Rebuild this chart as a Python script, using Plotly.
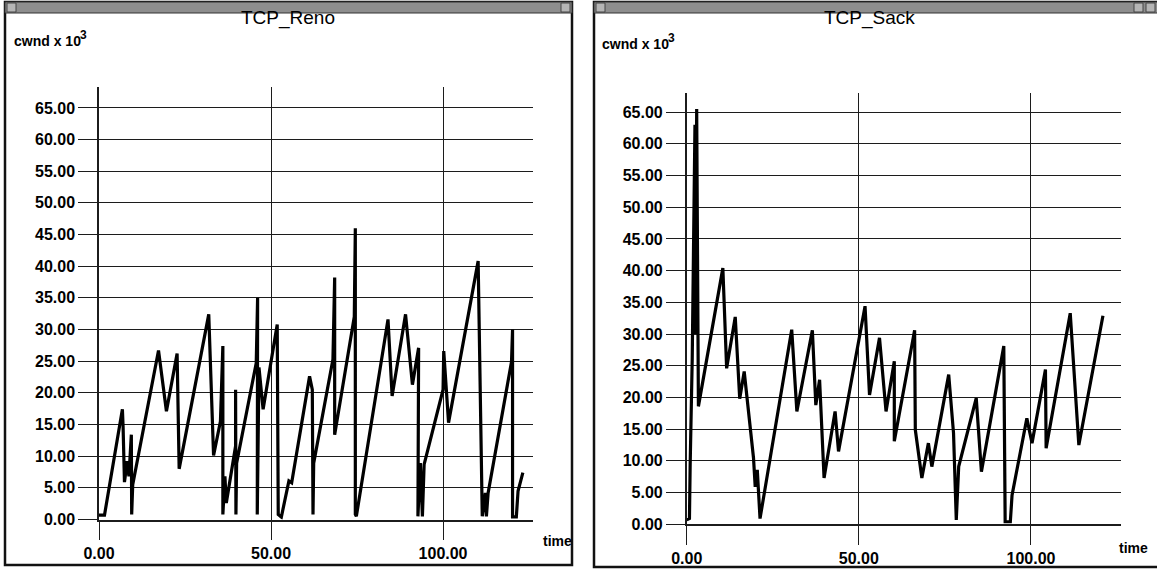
import plotly.graph_objects as go

# ---------------- data ----------------
reno_t = [0, 1.6, 6.8, 7.0, 7.4, 8.2, 8.7, 9.4, 9.5, 9.8,
          17.3, 19.6, 22.7, 23.3, 31.9, 33.3, 35.3, 36.0, 36.0, 36.6,
          37.0, 39.7, 39.7, 39.8, 40.0, 45.7, 46.1, 46.0, 46.5, 47.7,
          51.8, 52.1, 53.0, 55.2, 56.0, 61.2, 62.0, 62.2, 62.4, 68.0,
          68.5, 68.5, 74.2, 74.5, 74.5, 74.8, 84.0, 85.2, 89.1, 91.1,
          92.9, 92.7, 93.4, 94.0, 94.5, 100.0, 100.2, 101.6, 110.2, 111.1,
          111.4, 112.3, 112.6, 113.1, 119.9, 120.2, 120.2, 121.3, 121.8, 123.2]
reno_cwnd = [0.7, 0.7, 17.4, 14.7, 5.9, 9.2, 6.8, 13.4, 0.8, 5.5,
             26.7, 17.1, 26.2, 8.0, 32.4, 10.1, 15.5, 27.4, 0.8, 6.8,
             2.6, 11.6, 20.5, 0.8, 8.9, 24.7, 35.0, 0.8, 24.0, 17.4,
             30.8, 0.8, 0.4, 6.1, 5.8, 22.6, 20.5, 0.8, 8.9, 25.3,
             38.2, 13.4, 32.0, 46.0, 0.8, 0.5, 31.6, 19.5, 32.4, 21.3,
             27.1, 0.5, 8.9, 0.5, 8.7, 20.5, 26.6, 15.3, 40.8, 12.5,
             0.5, 4.2, 0.5, 4.2, 24.9, 30.0, 0.4, 0.4, 4.5, 7.4]

sack_t = [0, 0.8, 1.0, 1.6, 2.4, 2.6, 2.9, 3.4, 10.5, 11.6,
          14.1, 15.4, 16.7, 17.9, 19.4, 19.9, 20.5, 21.3, 30.5, 32.0,
          36.5, 37.5, 38.6, 39.9, 43.1, 44.1, 51.8, 53.1, 56.0, 57.9,
          60.3, 60.3, 66.2, 66.4, 68.3, 70.2, 71.2, 76.1, 77.5, 78.3,
          79.0, 84.1, 85.6, 92.1, 92.5, 94.0, 94.5, 98.8, 100.3, 104.2,
          104.4, 111.4, 113.9, 120.9]
sack_cwnd = [0.7, 0.9, 9.1, 26.0, 63.0, 30.0, 65.5, 18.6, 40.4, 24.6,
             32.7, 19.8, 24.1, 17.5, 10.5, 5.9, 8.6, 0.9, 30.7, 17.8,
             30.6, 18.8, 22.8, 7.3, 17.8, 11.5, 34.4, 20.4, 29.4, 17.8,
             25.7, 13.1, 30.6, 14.9, 7.3, 12.8, 9.1, 23.6, 14.4, 0.7,
             9.1, 19.9, 8.3, 28.1, 0.4, 0.4, 4.6, 16.7, 12.8, 24.4,
             12.0, 33.3, 12.5, 32.9]

titles = ["TCP_Reno", "TCP_Sack"]
y_label, y_label_exp, x_label = "cwnd x 10", "3", "time"
x_ticks = [0, 50, 100]
y_ticks = list(range(0, 70, 5))

# ---------------- layout helpers ----------------
W, H = 1157, 569
def px(x): return x / W
def py(y): return 1 - y / H

FONT = "Liberation Sans, Arial, Helvetica, sans-serif"
GRID = "#1c1c1c"

fig = go.Figure()
fig.add_trace(go.Scatter(x=reno_t, y=reno_cwnd, mode="lines",
                         line=dict(color="black", width=3.2), xaxis="x", yaxis="y",
                         showlegend=False, hoverinfo="skip"))
fig.add_trace(go.Scatter(x=sack_t, y=sack_cwnd, mode="lines",
                         line=dict(color="black", width=3.2), xaxis="x2", yaxis="y2",
                         showlegend=False, hoverinfo="skip"))

def axis_common():
    return dict(showgrid=True, gridcolor=GRID, gridwidth=1,
                ticks="outside", ticklen=19, tickcolor=GRID, tickwidth=1,
                showline=True, linecolor=GRID, linewidth=1.5, zeroline=False,
                automargin=False, tickformat=".2f",
                tickfont=dict(family=FONT, size=16, color="black", weight="bold"),
                fixedrange=True)

def xax(dom, anchor):
    d = axis_common()
    d.update(domain=dom, range=[0, 126], anchor=anchor, tickvals=x_ticks)
    return d

def yax(dom, anchor, top):
    d = axis_common()
    d.update(domain=dom, range=[0, top], anchor=anchor, tickvals=y_ticks)
    return d

# plot areas (pixel positions converted to paper fractions)
L = dict(x0=99, x1=532.5, ybot=519.5, ytop=87.0, top=68.3)
R = dict(x0=686.7, x1=1120.5, ybot=524.3, ytop=92.5, top=68.1)

shapes = []
annotations = []

def window(x0, x1, y0, y1, boxes):
    # white window with black border and gray title bar
    shapes.append(dict(type="rect", xref="paper", yref="paper",
                       x0=px(x0), x1=px(x1), y0=py(y1), y1=py(y0),
                       line=dict(color="#111", width=2.5), fillcolor="white", layer="below"))
    shapes.append(dict(type="rect", xref="paper", yref="paper",
                       x0=px(x0), x1=px(x1), y0=py(13), y1=py(y0),
                       line=dict(color="#333", width=1), fillcolor="#8e8e8e", layer="below"))
    for bx in boxes:
        shapes.append(dict(type="rect", xref="paper", yref="paper",
                           x0=px(bx), x1=px(bx + 9), y0=py(12), y1=py(y0 + 1),
                           line=dict(color="#444", width=1), fillcolor="#b5b5b5", layer="below"))

window(5, 572, 2, 565, [7, 561])
window(594, 1165, 2, 567, [596, 1134, 1146])

def ann(text, x, y, size, bold, xanchor="center"):
    f = dict(family=FONT, size=size, color="black")
    if bold:
        f["weight"] = "bold"
    annotations.append(dict(text=text, xref="paper", yref="paper",
                            x=px(x), y=py(y), xanchor=xanchor, yanchor="middle",
                            showarrow=False, font=f))

for title, cx, cw_x, cw_y, tx, ty in [
        (titles[0], 288, 12, 41, 557, 541),
        (titles[1], 869, 600, 44, 1133, 548)]:
    ann(title, cx, 18, 19, False)
    ann(y_label, cw_x, cw_y, 14, True, "left")
    ann(y_label_exp, cw_x + 66, cw_y - 6, 12, True, "left")
    ann(x_label, tx, ty, 14, True)

fig.update_layout(
    template="none",
    width=W, height=H, margin=dict(l=0, r=0, t=0, b=0, pad=0, autoexpand=False),
    paper_bgcolor="white", plot_bgcolor="white",
    xaxis=xax([px(L["x0"]), px(L["x1"])], "y"),
    yaxis=yax([py(L["ybot"]), py(L["ytop"])], "x", L["top"]),
    xaxis2=xax([px(R["x0"]), px(R["x1"])], "y2"),
    yaxis2=yax([py(R["ybot"]), py(R["ytop"])], "x2", R["top"]),
    shapes=shapes, annotations=annotations, showlegend=False,
)

fig.write_html("out.html", config={"displayModeBar": False},
               post_script="document.body.style.margin='0';document.body.style.overflow='hidden';")
